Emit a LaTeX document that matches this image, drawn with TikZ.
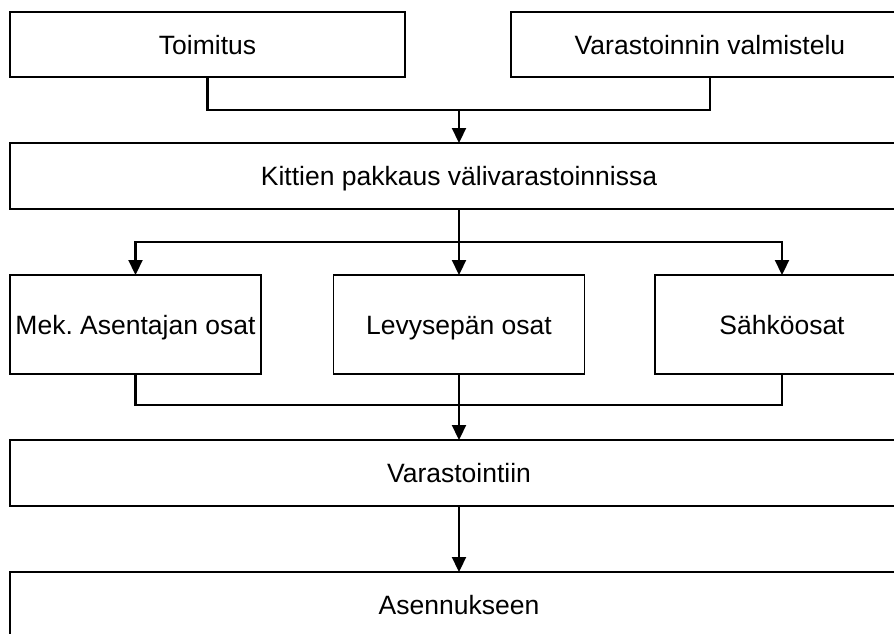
\documentclass[tikz,border=0pt]{standalone}
\usepackage{fontspec}
\setmainfont{Liberation Sans}
\usetikzlibrary{arrows.meta}
\begin{document}
\frenchspacing
\begin{tikzpicture}[x=1pt,y=-1pt,
  box/.style={draw=black,line width=1.2pt,fill=white,inner sep=0pt,outer sep=0pt,
    font=\fontsize{26.5}{30}\selectfont,text height=22pt,text depth=3pt},
  link/.style={draw=black,line width=2.2pt},
  arr/.style={link,-{Triangle[width=14pt,length=15pt]}}]
\useasboundingbox (0,0) rectangle (894,633);
\clip (0,0) rectangle (894,633);
\fill[white] (0,0) rectangle (894,633);
% first row
\node[box,minimum width=395pt,minimum height=65pt] (toim) at (207.5,44.5) {Toimitus};
\node[box,minimum width=398pt,minimum height=65pt] (valm) at (710,44.5) {Varastoinnin valmistelu};
% kit packing
\node[box,minimum width=898pt,minimum height=66pt] (kitt) at (459,176) {Kittien pakkaus välivarastoinnissa};
% part groups
\node[box,minimum width=251pt,minimum height=99pt] (mek) at (135.5,324.5) {Mek.\ Asentajan osat};
\node[box,minimum width=251pt,minimum height=99pt] (levy) at (459,324.5) {Levysepän osat};
\node[box,minimum width=254pt,minimum height=99pt] (sahk) at (782,324.5) {Sähköosat};
% storage and installation
\node[box,minimum width=898pt,minimum height=66pt] (vara) at (459,473) {Varastointiin};
\node[box,minimum width=898pt,minimum height=66pt] (asen) at (459,605) {Asennukseen};
% junction points
\coordinate (j1) at (459,110);
\coordinate (j2) at (459,242);
\coordinate (j3) at (459,405);
% connectors
\draw[link] (toim.south) |- (j1) -| (valm.south);
\draw[arr] (j1) -- (kitt.north);
\draw[arr] (kitt.south) -- (levy.north);
\draw[arr] (j2) -| (mek.north);
\draw[arr] (j2) -| (sahk.north);
\draw[link] (mek.south) |- (j3) -| (sahk.south);
\draw[link] (levy.south) -- (j3);
\draw[arr] (j3) -- (vara.north);
\draw[arr] (vara.south) -- (asen.north);
\end{tikzpicture}
\end{document}
